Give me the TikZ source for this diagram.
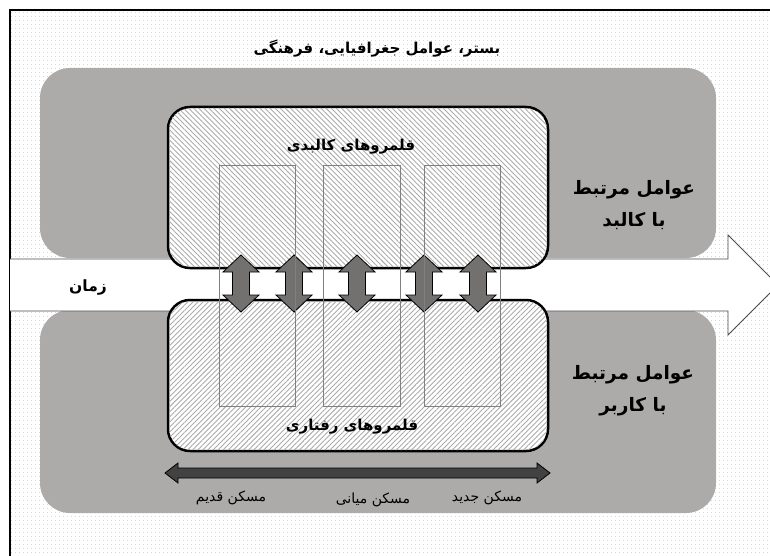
\documentclass[tikz,border=0pt]{standalone}
\usepackage{fontspec}
\newfontfamily\arabicfont[Script=Arabic]{DejaVu Sans}
\TeXXeTstate=1
\usetikzlibrary{patterns.meta}
\definecolor{boxgray}{HTML}{ADAAAA}
\definecolor{arrowgray}{HTML}{737070}
\definecolor{bardark}{HTML}{424242}
\tikzset{
  label/.style={font=\arabicfont\bfseries\fontsize{15}{20}\selectfont, align=center},
  biglabel/.style={font=\arabicfont\bfseries\fontsize{18.5}{32}\selectfont, align=center},
  small/.style={font=\arabicfont\fontsize{14}{16}\selectfont},
  hatchbox/.style={draw=black, line width=2.5pt, rounded corners=22pt, fill=white},
  column/.style={draw=gray, line width=0.8pt},
}

\begin{document}
\begin{tikzpicture}[x=1pt, y=-1pt]
        \useasboundingbox (0,0) rectangle (770,556);
        \clip (0,0) rectangle (770,556);
        % background
        \fill[white] (0,0) rectangle (770,556);
        \fill[pattern={Dots[distance=4pt, radius=0.4pt]}, pattern color=gray!75] (10,10) rectangle (780,560);
        \draw[line width=2pt] (10,560) -- (10,10) -- (780,10);
        % gray bands
        \fill[boxgray, rounded corners=30pt] (40,68) rectangle (716,258);
        \fill[boxgray, rounded corners=30pt] (40,310) rectangle (716,513);
        % time arrow
        \draw[fill=white, draw=black!70, line width=0.8pt] (10,259) -- (728,259) -- (728,235) -- (778,285)
            -- (728,335) -- (728,311) -- (10,311);
        \fill[white] (11,260) rectangle (727,310);
        % hatched boxes
        \draw[hatchbox] (168,107) rectangle (548,268);
        \fill[pattern={Lines[angle=-45, distance=3.6pt, line width=0.9pt]}, pattern color=gray!65, rounded corners=21pt] (169,108) rectangle (547,267);
        \draw[hatchbox] (168,300) rectangle (548,451);
        \fill[pattern={Lines[angle=45, distance=3.6pt, line width=0.9pt]}, pattern color=gray!65, rounded corners=21pt] (169,301) rectangle (547,450);
        % double arrows between the boxes
        \foreach \x in {241, 294, 357, 424, 478} {
          \draw[fill=arrowgray, line width=0.8pt] (\x,255) -- (\x+18,272) -- (\x+8.5,272) -- (\x+8.5,295) -- (\x+18,295)
              -- (\x,312) -- (\x-18,295) -- (\x-8.5,295) -- (\x-8.5,272) -- (\x-18,272) -- cycle;
        }
        % columns
        \foreach \a/\b in {219/295, 323/400, 424/500} {
          \draw[column] (\a,165) rectangle (\b,406);
        }
        % housing axis
        \draw[fill=bardark, line width=0.8pt] (165,473) -- (178,463) -- (178,468) -- (537,468) -- (537,463) -- (550,473)
            -- (537,483) -- (537,478) -- (178,478) -- (178,483) -- cycle;
        % labels
        \node[label] (title) at (377,49) {\beginR بستر، عوامل جغرافیایی، فرهنگی\endR};
        \node[label] (physical) at (351,147) {\beginR قلمروهای کالبدی\endR};
        \node[label] (behaviour) at (352,427) {\beginR قلمروهای رفتاری\endR};
        \node[biglabel] (bodyfactors) at (634,205) {\beginR عوامل مرتبط\endR\\\beginR با کالبد\endR};
        \node[biglabel] (userfactors) at (633,391) {\beginR عوامل مرتبط\endR\\\beginR با کاربر\endR};
        \node[label, font=\arabicfont\bfseries\fontsize{15.5}{20}\selectfont] (time) at (88,288) {\beginR زمان\endR};
        \node[small] (old) at (231,498) {\beginR مسکن قدیم\endR};
        \node[small] (middle) at (373,500) {\beginR مسکن میانی\endR};
        \node[small] (new) at (487,498) {\beginR مسکن جدید\endR};
    \end{tikzpicture}
\end{document}
